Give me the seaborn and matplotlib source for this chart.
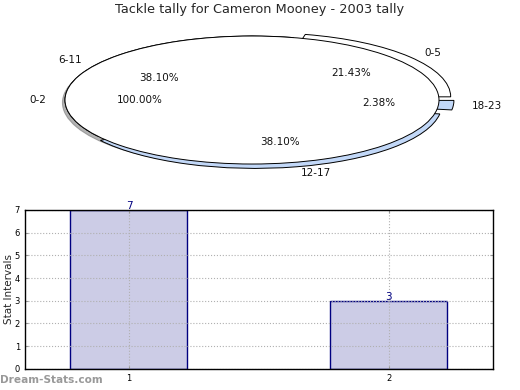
import matplotlib
matplotlib.use("Agg")
import matplotlib.pyplot as plt
import seaborn as sns
import pandas as pd

# ---- data ----
title = "Tackle tally for Cameron Mooney - 2003 tally"
outer_labels = ["0-2"]
outer_values = [1]
inner_labels = ["0-5", "6-11", "12-17", "18-23"]
inner_values = [9, 16, 16, 1]
bar_x = [1, 2]
bar_y = [7, 3]
xlabel = "Frequency"
ylabel = "Stat Intervals"
watermark = "Dream-Stats.com"

sns.set_theme(style="white")
plt.rcParams["font.family"] = ["DejaVu Sans"]

fig = plt.figure(figsize=(5.2, 3.9), dpi=100)
fig.patch.set_facecolor("white")

# ---- pie ----
axp = fig.add_axes([0.0, 0.5256, 1.0, 0.418])
blue = "#c2d8f8"
axp.pie(inner_values, labels=inner_labels, explode=[0.08, 0.0, 0.07, 0.08],
        colors=["white", "white", blue, blue], autopct="%.2f%%",
        startangle=0, counterclock=True,
        wedgeprops=dict(edgecolor="black", linewidth=0.7),
        textprops=dict(fontsize=7.5, color="#111111"))
axp.pie(outer_values, labels=outer_labels, colors=["white"], autopct="%.2f%%",
        shadow=dict(ox=-0.01, oy=-0.03, shade=0.6),
        startangle=0,
        wedgeprops=dict(edgecolor="black", linewidth=0.7),
        textprops=dict(fontsize=7.5, color="#111111"))
axp.set_aspect("auto")
axp.set_xlim(-1.3476, 1.4332)
axp.set_ylim(-1.328, 1.219)
axp.axis("off")

fig.text(0.5, 1 - 10 / 390, title, ha="center", va="center", fontsize=9.3)

# ---- bars ----
axb = fig.add_axes([0.048, 0.054, 0.9, 0.408])
df = pd.DataFrame({"x": bar_x, "y": bar_y})
sns.barplot(data=df, x="x", y="y", native_scale=True, width=0.45,
            color="#ccccE6", saturation=1, edgecolor="#000080", linewidth=1,
            ax=axb, errorbar=None)
axb.set_xlim(0.6, 2.4)
axb.set_ylim(0, 7)
axb.set_xticks(bar_x)
axb.set_yticks(range(0, 8))
axb.grid(True, linestyle=":", color="#b0b0b0", linewidth=0.8)
axb.set_axisbelow(False)
for sp in axb.spines.values():
    sp.set_color("black")
    sp.set_linewidth(1)
    sp.set_zorder(6)
axb.tick_params(direction="in", length=2.5, width=0.8, labelsize=6,
                top=True, right=True, bottom=True, left=True,
                color="#999999", labelcolor="black")
axb.set_xlabel(xlabel, fontsize=7.5, labelpad=6)
axb.set_ylabel(ylabel, fontsize=7.5)
axb.yaxis.set_label_coords(-0.024, 0.5)
for xv, yv in zip(bar_x, bar_y):
    axb.text(xv, yv - 0.05, str(yv), ha="center", va="bottom", fontsize=7.5,
             color="#000080")

fig.text(0.0, 1 - 380 / 390, watermark, ha="left", va="center", fontsize=7.6,
         color="#999999", fontweight="bold")

fig.savefig("out.png", dpi=100)
